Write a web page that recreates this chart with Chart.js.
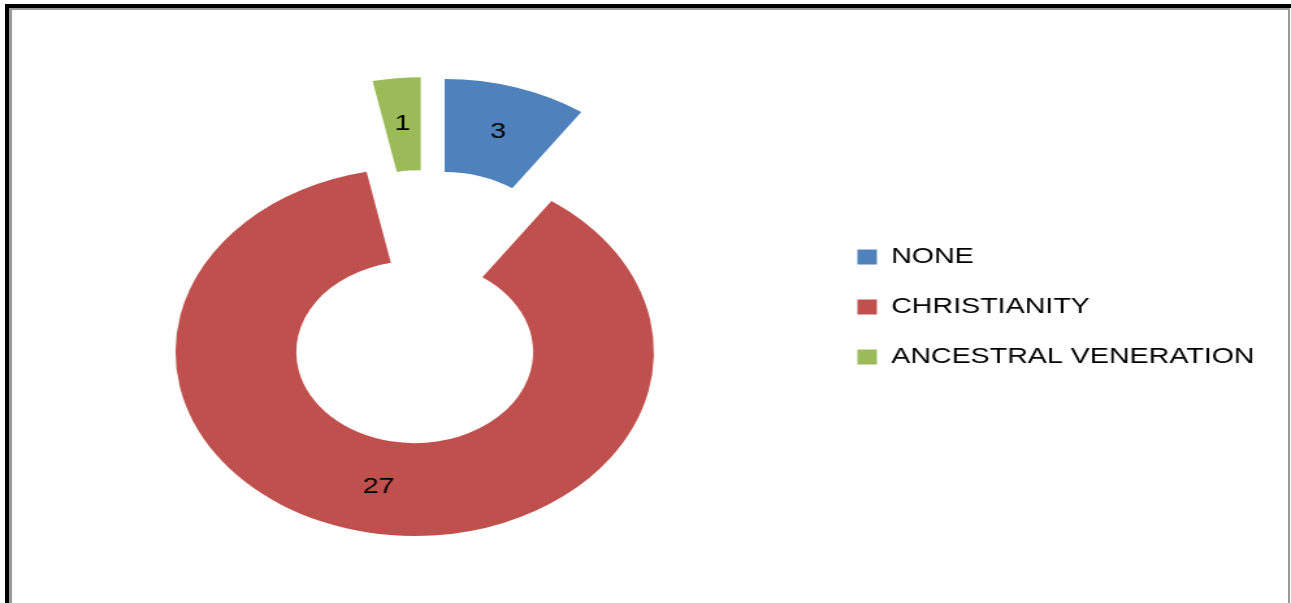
<!DOCTYPE html>
<html>
<head>
<meta charset="utf-8">
<script src="https://cdn.jsdelivr.net/npm/chart.js@4/dist/chart.umd.min.js"></script>
<style>
  html, body { margin: 0; padding: 0; background: #fff; }
  body { width: 1291px; height: 603px; position: relative; overflow: hidden; }
  #chart { position: absolute; left: 0; top: 0; }
  .frame {
    position: absolute; left: 5px; top: 4px; right: 0; bottom: -10px;
    border-top: 4px solid #000; border-left: 4px solid #000;
    pointer-events: none;
  }
  .frame-inner {
    position: absolute; left: 0; top: 0; right: 1px; bottom: 0;
    border-top: 2px solid #9a9a9a; border-left: 3px solid #9a9a9a; border-right: 2px solid #9a9a9a;
  }
</style>
</head>
<body>
<!-- the source picture is stretched sideways, so the canvas is too (inline style so Chart.js keeps it) -->
<canvas id="chart" width="993" height="603" style="width:1291px;height:603px"></canvas>
<div class="frame"><div class="frame-inner"></div></div>

<script>
// ---------------- Data ----------------
const categories = ["NONE", "CHRISTIANITY", "ANCESTRAL VENERATION"];
const counts = [3, 27, 1];
const sliceColors = ["#4F81BD", "#C0504D", "#9BBB59"];

// ---------------- Style ----------------
const FONT = "'Liberation Sans', Arial, sans-serif";
const explode = 46; // how far every slice is pulled out of the centre

// pulls each arc out along its middle angle, then writes its value
const explodePlugin = {
  id: "explode",
  beforeDatasetsDraw(chart) {
    chart.getDatasetMeta(0).data.forEach(arc => {
      const mid = (arc.startAngle + arc.endAngle) / 2;
      arc._home = { x: arc.x, y: arc.y };
      arc.x += Math.cos(mid) * explode;
      arc.y += Math.sin(mid) * explode;
    });
  },
  afterDatasetsDraw(chart) {
    const ctx = chart.ctx;
    const meta = chart.getDatasetMeta(0);
    ctx.save();
    ctx.font = "22px " + FONT;
    ctx.fillStyle = "#000";
    ctx.textAlign = "center";
    ctx.textBaseline = "middle";
    meta.data.forEach((arc, i) => {
      const p = arc.tooltipPosition();
      ctx.fillText(String(chart.data.datasets[0].data[i]), p.x, p.y);
    });
    ctx.restore();
    meta.data.forEach(arc => {
      if (arc._home) { arc.x = arc._home.x; arc.y = arc._home.y; }
    });
  }
};

new Chart(document.getElementById("chart"), {
  type: "doughnut",
  data: {
    labels: categories,
    datasets: [{
      data: counts,
      backgroundColor: sliceColors,
      borderWidth: 0
    }]
  },
  options: {
    responsive: false,
    animation: false,
    devicePixelRatio: 1,
    radius: 184,
    cutout: "49.5%",
    layout: { padding: { left: 25, right: 18, top: 11, bottom: 0 } },
    plugins: {
      tooltip: { enabled: false },
      legend: {
        position: "right",
        align: "center",
        labels: {
          boxWidth: 15,
          boxHeight: 15,
          padding: 28,
          color: "#000",
          font: { family: FONT, size: 22 }
        }
      }
    }
  },
  plugins: [explodePlugin]
});
</script>
</body>
</html>
